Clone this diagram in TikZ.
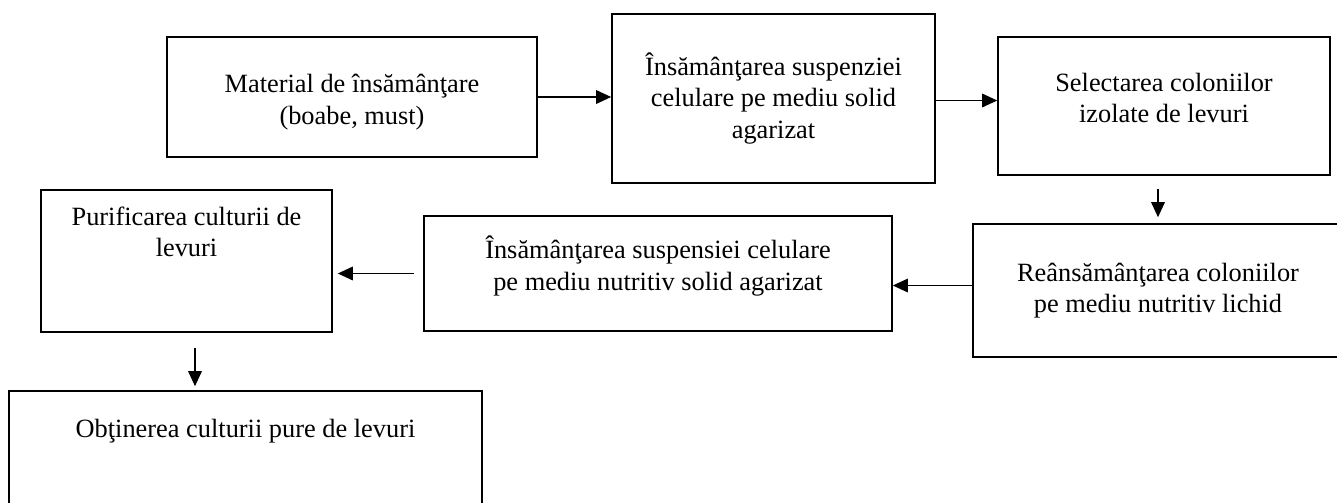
\documentclass[tikz,border=0pt]{standalone}
\usepackage{fontspec}
\setmainfont{Liberation Serif}
\usetikzlibrary{arrows.meta, positioning, calc}

\begin{document}
\begin{tikzpicture}[every node/.style={font=\fontsize{15}{18}\selectfont},
  stepbox/.style={draw, line width=0.9pt, align=center, inner sep=0pt},
  flow/.style={line width=0.9pt, -{Triangle[length=0.3cm, width=0.27cm]}}]
\useasboundingbox (0,0) rectangle (26.74,-10.04);
% top row
\node[stepbox, minimum width=7.4cm, minimum height=2.4cm,
  text height=1.2cm, text depth=0.12cm] (mat) at (7.04,-1.94)
  {Material de însămânţare\\(boabe, must)};
\node[stepbox, minimum width=6.46cm, minimum height=3.38cm] (ins) at (15.47,-1.97)
  {Însămânţarea suspenziei\\celulare pe mediu solid\\agarizat};
\node[stepbox, minimum width=6.64cm, minimum height=2.76cm,
  text height=0.77cm, text depth=0.1cm] (sel) at (23.28,-2.12)
  {Selectarea coloniilor\\izolate de levuri};
% middle row
\node[stepbox, minimum width=7.4cm, minimum height=2.66cm] (rea) at (23.16,-5.81)
  {Reânsămânţarea coloniilor\\pe mediu nutritiv lichid};
\node[stepbox, minimum width=9.36cm, minimum height=2.3cm,
  text height=0.77cm, text depth=0.1cm] (sus) at (13.16,-5.47)
  {Însămânţarea suspensiei celulare\\pe mediu nutritiv solid agarizat};
\node[stepbox, minimum width=5.82cm, minimum height=2.84cm,
  text height=0.4cm, text depth=0.57cm] (pur) at (3.73,-5.22)
  {Purificarea culturii de\\levuri};
% bottom
\node[stepbox, minimum width=9.46cm, minimum height=2.48cm,
  text height=0.4cm, text depth=1.04cm] (obt) at (4.91,-9.06)
  {Obţinerea culturii pure de levuri};
% arrows
\draw[flow] (mat.east) -- (mat.east -| ins.west);
\draw[flow] ([yshift=-0.04cm]ins.east) -- ([yshift=-0.04cm]ins.east -| sel.west);
\draw[flow, shorten <=0.26cm, shorten >=0.12cm] (sel.south -| rea.north) -- (rea.north);
\draw[flow] ([yshift=0.1cm]rea.west) -- ([yshift=0.1cm]rea.west -| sus.east);
\draw[flow, shorten <=0.18cm, shorten >=0.1cm] (sus.west) -- (sus.west -| pur.east);
\draw[flow, shorten <=0.3cm, shorten >=0.08cm] ([xshift=0.17cm]pur.south)
  -- ([xshift=0.17cm]pur.south |- obt.north);
\end{tikzpicture}
\end{document}
